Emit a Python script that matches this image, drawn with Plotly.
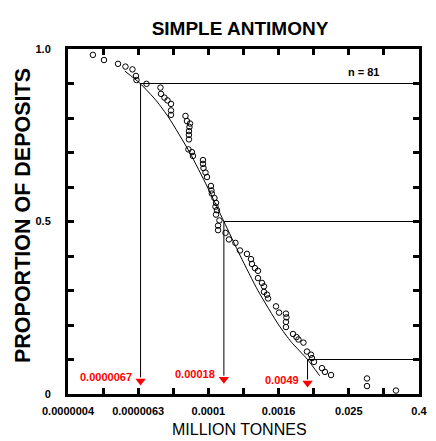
import math
import plotly.graph_objects as go

# ---------------- data ----------------
deposit_mt = [
    1.02e-6, 1.58e-6, 2.75e-6, 3.69e-6, 4.87e-6, 5.59e-6, 5.70e-6, 8.46e-6,
    1.47e-5, 1.50e-5, 1.72e-5, 1.94e-5, 2.23e-5, 2.23e-5, 2.23e-5, 3.95e-5,
    4.19e-5, 4.72e-5, 4.62e-5, 4.53e-5, 4.53e-5, 4.53e-5, 4.44e-5, 5.10e-5,
    5.31e-5, 7.88e-5, 7.88e-5, 8.04e-5, 8.70e-5, 9.23e-5, 1.08e-4, 1.10e-4,
    1.12e-4, 1.24e-4, 1.32e-4, 1.29e-4, 1.37e-4, 1.32e-4, 1.51e-4, 1.43e-4,
    1.43e-4, 1.92e-4, 2.20e-4, 2.84e-4, 3.40e-4, 4.48e-4, 5.25e-4, 5.46e-4,
    6.14e-4, 6.92e-4, 6.92e-4, 8.10e-4, 8.77e-4, 8.77e-4, 9.87e-4, 1.03e-3,
    1.41e-3, 1.59e-3, 2.09e-3, 2.13e-3, 2.09e-3, 2.09e-3, 2.76e-3, 3.17e-3,
    3.42e-3, 4.17e-3, 4.79e-3, 5.61e-3, 5.84e-3, 6.32e-3, 8.67e-3, 9.75e-3,
    1.24e-2, 5.13e-2, 5.13e-2, 0.161,
]
deposit_prop = [
    0.983, 0.968, 0.957, 0.949, 0.941, 0.922, 0.910, 0.899,
    0.888, 0.870, 0.859, 0.851, 0.841, 0.822, 0.809, 0.806,
    0.791, 0.784, 0.774, 0.762, 0.751, 0.738, 0.709, 0.701,
    0.690, 0.678, 0.667, 0.655, 0.642, 0.629, 0.603, 0.590,
    0.581, 0.568, 0.554, 0.543, 0.533, 0.520, 0.503, 0.488,
    0.475, 0.467, 0.448, 0.438, 0.416, 0.406, 0.391, 0.377,
    0.365, 0.357, 0.336, 0.322, 0.312, 0.296, 0.288, 0.277,
    0.254, 0.236, 0.233, 0.222, 0.209, 0.194, 0.174, 0.165,
    0.158, 0.149, 0.123, 0.114, 0.104, 0.093, 0.075, 0.064,
    0.055, 0.045, 0.023, 0.010,
]

curve_mt = [3.6e-6, 6.6e-6, 1.25e-5, 2.06e-5, 4.67e-5, 9.4e-5, 1.8e-4,
            3.45e-4, 6.9e-4, 1.57e-3, 2.6e-3, 4.9e-3, 7.9e-3]
curve_prop = [0.936, 0.90, 0.85, 0.80, 0.70, 0.60, 0.50,
              0.40, 0.30, 0.20, 0.15, 0.10, 0.053]

quantile_prop = [0.9, 0.5, 0.1]
quantile_mt = [0.0000067, 0.00018, 0.0049]
quantile_text = ["0.0000067", "0.00018", "0.0049"]
arrow_prop = [0.038, 0.043, 0.032]
label_prop = [0.049, 0.058, 0.041]

x_tick_text = ["0.0000004", "", "0.0000063", "", "0.0001", "", "0.0016", "", "0.025", "", "0.4"]
y_tick_text = ["0", "", "", "", "", "0.5", "", "", "", "", "1.0"]
n_text = "n = 81"

X_MAX = 0.4
x_tick_vals = [X_MAX / 4 ** k for k in range(10, -1, -1)]
y_tick_vals = [k / 10 for k in range(11)]

FONT = "Liberation Sans, Arial, sans-serif"

fig = go.Figure()

# drop lines (black) from curve to right edge and down to arrows
for p, q, a in zip(quantile_prop, quantile_mt, arrow_prop):
    fig.add_trace(go.Scatter(x=[q, X_MAX], y=[p, p], mode="lines",
                             line=dict(color="black", width=1), hoverinfo="skip"))
    fig.add_trace(go.Scatter(x=[q, q], y=[p, a + 0.01], mode="lines",
                             line=dict(color="black", width=1), hoverinfo="skip"))

# fitted curve
fig.add_trace(go.Scatter(x=curve_mt, y=curve_prop, mode="lines",
                         line=dict(color="black", width=1, shape="spline", smoothing=0.6),
                         hoverinfo="skip"))

# observed deposits
fig.add_trace(go.Scatter(x=deposit_mt, y=deposit_prop, mode="markers",
                         marker=dict(symbol="circle-open", size=5.5, color="black",
                                     line=dict(width=1, color="black"))))

# red arrows
fig.add_trace(go.Scatter(x=quantile_mt, y=arrow_prop, mode="markers",
                         marker=dict(symbol="triangle-down", size=9, color="#ff0000",
                                     line=dict(width=0))))

annotations = []
for q, lp, t in zip(quantile_mt, label_prop, quantile_text):
    annotations.append(dict(x=math.log10(q), y=lp, xref="x", yref="y", text="<b>" + t + "</b>",
                            showarrow=False, xanchor="right", xshift=-7, yanchor="middle",
                            font=dict(family=FONT, size=11, color="#ff0000")))
annotations.append(dict(x=math.log10(0.0455), y=0.933, xref="x", yref="y",
                        text="<b>" + n_text + "</b>", showarrow=False,
                        xanchor="center", yanchor="middle",
                        font=dict(family=FONT, size=11, color="black")))
annotations.append(dict(x=-0.128, y=0.516, xref="paper", yref="paper",
                        text="<b>PROPORTION OF DEPOSITS</b>", textangle=-90,
                        showarrow=False, xanchor="center", yanchor="middle",
                        font=dict(family=FONT, size=21.5, color="black")))
annotations.append(dict(x=0.49, y=-0.104, xref="paper", yref="paper",
                        text="MILLION TONNES", showarrow=False,
                        xanchor="center", yanchor="middle",
                        font=dict(family=FONT, size=16, color="black")))

axis_common = dict(showline=True, linewidth=3, linecolor="black", mirror="ticks",
                   ticks="inside", ticklen=6, tickwidth=3, tickcolor="black",
                   showgrid=False, zeroline=False, automargin=False,
                   tickfont=dict(family=FONT, size=11, color="black", weight="bold"))

fig.update_layout(
    template="none",
    width=436, height=441,
    margin=dict(l=68, r=17, t=49, b=47),
    paper_bgcolor="white", plot_bgcolor="white",
    showlegend=False,
    title=dict(text="<b>SIMPLE ANTIMONY</b>", x=240 / 436, xref="container", xanchor="center",
               y=1 - 28 / 441, yref="container", yanchor="middle", pad=dict(l=0, r=0, t=0, b=0),
               font=dict(family=FONT, size=19, color="black")),
    xaxis=dict(type="log", range=[math.log10(x_tick_vals[0]), math.log10(X_MAX)],
               tickvals=x_tick_vals, ticktext=x_tick_text, ticklabelstandoff=5,
               **axis_common),
    yaxis=dict(range=[0, 1], tickvals=y_tick_vals, ticktext=y_tick_text,
               ticklabelstandoff=12, **axis_common),
    annotations=annotations,
)

fig.write_html("out.html", config={"displayModeBar": False},
               post_script="document.body.style.margin='0';document.body.style.overflow='hidden';")
